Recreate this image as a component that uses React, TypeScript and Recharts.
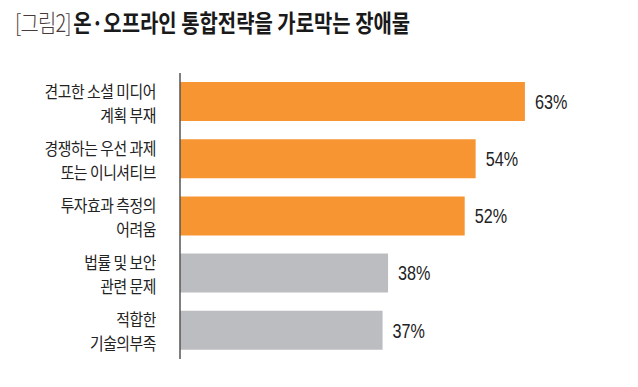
import React from 'react';
import { BarChart, Bar, XAxis, YAxis, Cell, LabelList } from 'recharts';

const TITLE_PREFIX = '[그림2]';
const TITLE_TEXT = '온·오프라인 통합전략을 가로막는 장애물';

const CATEGORY_LINE1 = ['견고한 소셜 미디어', '경쟁하는 우선 과제', '투자효과 측정의', '법률 및 보안', '적합한'];
const CATEGORY_LINE2 = ['계획 부재', '또는 이니셔티브', '어려움', '관련 문제', '기술의부족'];
const VALUES = [63, 54, 52, 38, 37];
const HIGHLIGHTED = 3;

const ORANGE = '#F79533';
const GRAY = '#BCBDC0';
const KR_FONT = "'Noto Sans CJK KR', 'Noto Sans', sans-serif";
const NUM_FONT = "'Liberation Sans', Arial, sans-serif";

const data = VALUES.map((v, i) => ({ key: String(i), value: v }));

const lineStyle: React.CSSProperties = { height: 24, lineHeight: '24px', whiteSpace: 'nowrap' };

const CategoryTick = (props: any) => {
  const { x, y, payload } = props;
  const i = Number(payload.value);
  return (
    <foreignObject x={x - 200} y={y - 23} width={200} height={48}>
      <div
        style={{
          textAlign: 'right',
          fontFamily: KR_FONT,
          fontSize: 16.5,
          letterSpacing: -0.5,
          color: '#222',
          transform: 'scaleX(0.9)',
          transformOrigin: 'right center',
        }}
      >
        <div style={lineStyle}>{CATEGORY_LINE1[i]}</div>
        <div style={lineStyle}>{CATEGORY_LINE2[i]}</div>
      </div>
    </foreignObject>
  );
};

const ValueLabel = (props: any) => {
  const { x, y, width, height, value } = props;
  const tx = x + width + 10;
  const ty = y + height / 2;
  return (
    <text
      transform={`translate(${tx},${ty}) scale(0.77,1)`}
      fontFamily={NUM_FONT}
      fontSize={21}
      fill="#222"
      dominantBaseline="central"
    >
      {value}%
    </text>
  );
};

export default function App() {
  return (
    <div style={{ position: 'absolute', left: 0, top: 0, width: 638, height: 387, background: '#fff' }}>
      <div
        style={{
          position: 'absolute',
          left: 15,
          top: 7,
          whiteSpace: 'nowrap',
          transform: 'scaleX(0.83)',
          transformOrigin: 'left center',
          fontFamily: KR_FONT,
          fontSize: 24,
          lineHeight: '30px',
        }}
      >
        <span style={{ color: '#4a3a3a', fontWeight: 300, letterSpacing: -1 }}>{TITLE_PREFIX}</span>
        <span style={{ color: '#1a1a1a', fontWeight: 700, marginLeft: 3 }}>{TITLE_TEXT}</span>
      </div>
      <BarChart
        width={638}
        height={387}
        data={data}
        layout="vertical"
        margin={{ top: 73, right: 20, bottom: 28, left: 0 }}
        barCategoryGap={0}
      >
        <XAxis type="number" domain={[0, 80]} hide />
        <YAxis
          type="category"
          dataKey="key"
          width={180}
          tickLine={false}
          tickSize={0}
          tickMargin={24}
          axisLine={{ stroke: '#555', strokeWidth: 1.5 }}
          tick={<CategoryTick />}
          interval={0}
        />
        <Bar dataKey="value" barSize={39} isAnimationActive={false}>
          {data.map((d, i) => (
            <Cell key={d.key} fill={i < HIGHLIGHTED ? ORANGE : GRAY} />
          ))}
          <LabelList dataKey="value" content={<ValueLabel />} />
        </Bar>
      </BarChart>
    </div>
  );
}
